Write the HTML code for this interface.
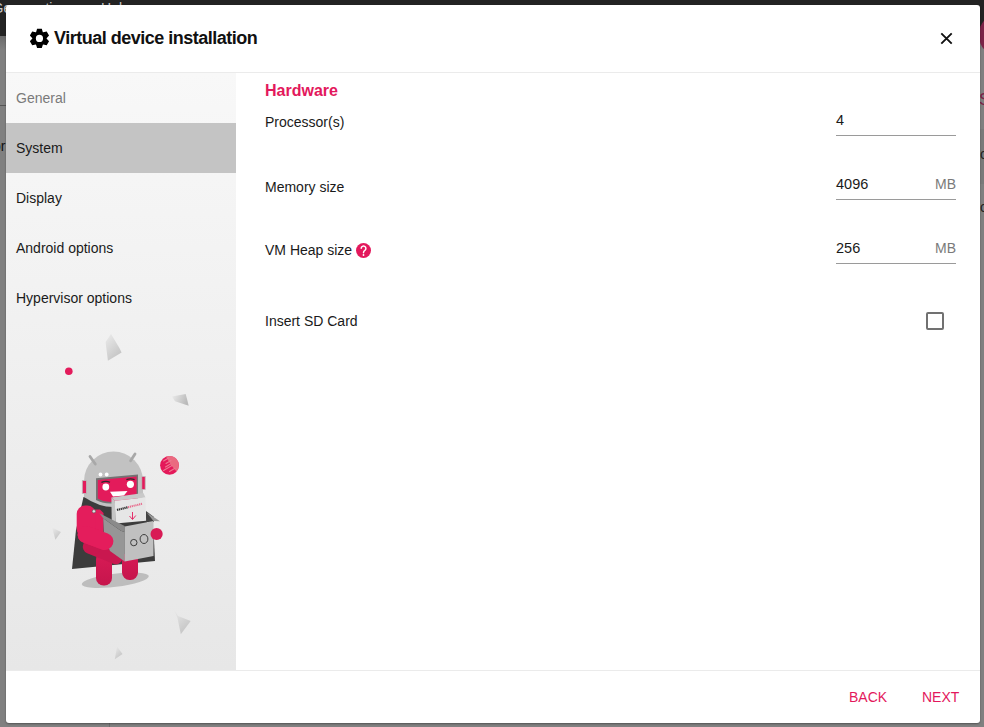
<!DOCTYPE html>
<html><head><meta charset="utf-8">
<style>
*{box-sizing:border-box;margin:0;padding:0}
html,body{width:984px;height:727px;overflow:hidden}
body{position:relative;font-family:"Liberation Sans",sans-serif;background:#808080;color:#1a1a1a}
.topbar{position:absolute;left:0;top:0;width:984px;height:36px;background:#232323;overflow:hidden}
.tshadow{position:absolute;left:0;top:36px;width:984px;height:14px;background:linear-gradient(#6a6a6a,#808080)}
.lline{position:absolute;left:0;top:105px;width:8px;height:1px;background:#555}
.bline{position:absolute;left:109px;top:718px;width:1px;height:10px;background:#6e6e6e}
.rpink{position:absolute;left:979px;top:14px;width:40px;height:42px;border-radius:21px;background:#7b2347}
.dlg{position:absolute;left:6px;top:5px;width:974px;height:718px;background:#fff;border-radius:3px;overflow:hidden;box-shadow:0 1px 2px rgba(0,0,0,.35)}
.hdr{position:absolute;left:0;top:0;width:974px;height:68px;border-bottom:1px solid #ebebeb}
.title{position:absolute;left:48px;top:23px;font-size:18px;font-weight:bold;color:#111;white-space:nowrap;letter-spacing:-0.5px}
.gear{position:absolute;left:23px;top:23px}
.close{position:absolute;left:934px;top:27px}
.side{position:absolute;left:0;top:68px;width:230px;height:597px;background:linear-gradient(#f8f8f8,#e7e7e7)}
.item{position:absolute;left:0;width:230px;height:50px;font-size:14px;line-height:50px;padding-left:10px;color:#1a1a1a}
.item.sel{background:#c4c4c4}
.item.dis{color:#7a7a7a}
.main{position:absolute;left:230px;top:68px;width:744px;height:597px}
.sec{position:absolute;left:29px;top:9px;font-size:16px;font-weight:bold;color:#e3185c}
.lbl{position:absolute;left:29px;font-size:14px;color:#1a1a1a;white-space:nowrap}
.inp{position:absolute;left:600px;width:120px;height:24px;border-bottom:1px solid #9a9a9a;font-size:14px}
.inp .v{position:absolute;left:0;top:-0.5px;font-size:14.5px;color:#1a1a1a}
.inp .u{position:absolute;right:0;top:0px;color:#7a7a7a}
.help{position:absolute}
.chk{position:absolute;left:690px;width:18px;height:18px;border:2px solid #717171;border-radius:2px}
.ftr{position:absolute;left:0;top:665px;width:974px;height:53px;border-top:1px solid #ebebeb}
.btn{position:absolute;top:18px;font-size:14px;color:#e3185c;white-space:nowrap}
.art{position:absolute;left:0;top:0}
</style></head>
<body>
<div class="topbar"><span style="position:absolute;left:-7.5px;top:0px;font-size:14px;color:#c9c9c9">Genymotion</span><span style="position:absolute;left:101px;top:0px;font-size:14px;color:#c9c9c9">Help</span></div>
<div class="tshadow"></div>
<div class="lline"></div>
<div class="bline"></div>
<div style="position:absolute;left:978px;top:129px;width:6px;height:55px;background:#7a7a7a"></div>
<div style="position:absolute;left:-7px;top:138px;font-size:14px;color:#111">or</div>
<div style="position:absolute;left:979px;top:90px;font-size:17px;color:#7b2347">S</div>
<div style="position:absolute;left:980px;top:146px;font-size:14px;color:#222">c</div>
<div style="position:absolute;left:980px;top:199px;font-size:14px;color:#222">c</div>
<div class="rpink"></div>
<div class="dlg">
  <div class="hdr">
    <svg class="gear" width="21" height="21" viewBox="-10.45 -10.4 21 21"><path fill="#000" fill-rule="evenodd" d="M3.40 -6.23 L2.35 -9.72 L-2.35 -9.72 L-3.40 -6.23 L-3.70 -6.06 L-7.24 -6.90 L-9.59 -2.82 L-7.10 -0.17 L-7.10 0.17 L-9.59 2.82 L-7.24 6.90 L-3.70 6.06 L-3.40 6.23 L-2.35 9.72 L2.35 9.72 L3.40 6.23 L3.70 6.06 L7.24 6.90 L9.59 2.82 L7.10 0.17 L7.10 -0.17 L9.59 -2.82 L7.24 -6.90 L3.70 -6.06Z M3.6 0 A3.6 3.6 0 1 0 -3.6 0 A3.6 3.6 0 1 0 3.6 0Z"/></svg>
    <div class="title">Virtual device installation</div>
    <svg class="close" width="13" height="13" viewBox="0 0 13 13"><path d="M1.3 1.3L11.7 11.7M11.7 1.3L1.3 11.7" stroke="#111" stroke-width="1.9"/></svg>
  </div>
  <div class="side">
    <div class="item dis" style="top:0">General</div>
    <div class="item sel" style="top:50px">System</div>
    <div class="item" style="top:100px">Display</div>
    <div class="item" style="top:150px">Android options</div>
    <div class="item" style="top:200px">Hypervisor options</div>
  </div>
  <div class="main">
    <div class="sec">Hardware</div>
    <div class="lbl" style="top:41px">Processor(s)</div>
    <div class="inp" style="top:39px"><span class="v">4</span></div>
    <div class="lbl" style="top:106px">Memory size</div>
    <div class="inp" style="top:103px"><span class="v">4096</span><span class="u">MB</span></div>
    <div class="lbl" style="top:169px">VM Heap size</div>
    <svg class="help" style="left:120px;top:170px" width="15" height="15" viewBox="0 0 15 15"><circle cx="7.5" cy="7.5" r="7.5" fill="#e3185c"/><path d="M5.2 5.3 A2.35 2.35 0 1 1 8.9 7.3 Q7.5 8.1 7.5 9.7" stroke="#fff" stroke-width="1.45" fill="none" stroke-linecap="round"/><circle cx="7.5" cy="12" r="0.9" fill="#fff"/></svg>
    <div class="inp" style="top:167px"><span class="v">256</span><span class="u">MB</span></div>
    <div class="lbl" style="top:240px">Insert SD Card</div>
    <div class="chk" style="top:239px"></div>
  </div>
  <div class="ftr">
    <div class="btn" style="left:843px">BACK</div>
    <div class="btn" style="left:916px">NEXT</div>
  </div>
</div>
<svg class="art" width="240" height="670" viewBox="0 0 240 670">
<defs>
<linearGradient id="sh1" x1="0" y1="0" x2="0.6" y2="1"><stop offset="0" stop-color="#ececec"/><stop offset="1" stop-color="#c4c4c4"/></linearGradient>
<linearGradient id="sh2" x1="0" y1="0" x2="1" y2="0.3"><stop offset="0" stop-color="#ececec"/><stop offset="1" stop-color="#bababa"/></linearGradient>
<linearGradient id="leg" x1="0" y1="0" x2="0" y2="1"><stop offset="0" stop-color="#d81b56"/><stop offset="1" stop-color="#c6154c"/></linearGradient>
</defs>
<!-- shards -->
<polygon points="111,334 105.6,342 107.9,360.8 121.6,352.4 119.4,348" fill="url(#sh1)"/>
<polygon points="172,396.6 185.7,393.9 188.7,405.8 175,401.2" fill="url(#sh2)"/>
<polygon points="52.1,527.6 60.9,532 55.4,539.7" fill="url(#sh1)"/>
<polygon points="173.1,607.9 178,616 190.7,621.1 180.8,634.3 177.5,618" fill="url(#sh1)"/>
<polygon points="117,646.4 122.5,654.1 114.8,659.2" fill="url(#sh1)"/>
<circle cx="68.8" cy="371.2" r="3.8" fill="#e31b5b"/>
<!-- planet -->
<circle cx="169.5" cy="465.3" r="9.4" fill="#e4195a"/>
<path d="M166 456.6 A9.4 9.4 0 0 1 176.5 471.6 Q171 466 166 456.6Z" fill="#ea6a80"/>
<g stroke="#ee7890" stroke-width="1.1" stroke-linecap="round">
<line x1="163.5" y1="461" x2="169" y2="457.8"/><line x1="166" y1="463.5" x2="171" y2="460.5"/><line x1="165.5" y1="467" x2="170.5" y2="464"/><line x1="163.5" y1="470.5" x2="172" y2="465.5"/><line x1="169.5" y1="471.5" x2="175" y2="468.3"/>
</g>
<!-- shadow -->
<ellipse cx="115.3" cy="580.2" rx="33.8" ry="6.6" fill="#bdbdbd" transform="rotate(-7 115.3 580.2)"/>
<!-- cape -->
<polygon points="83.5,497 140,505 154,540 155,561 72,569 76,530" fill="#3c3c3c"/>
<!-- legs -->
<rect x="96" y="552" width="16" height="33.5" rx="7.5" fill="url(#leg)"/>
<rect x="122" y="552" width="16" height="28" rx="7.5" fill="url(#leg)"/>
<!-- torso -->
<rect x="82" y="544" width="42" height="15" rx="7" fill="#c9174f" transform="rotate(22 103 551.5)"/>
<rect x="86" y="540" width="14" height="14" rx="5" fill="#c9174f"/>
<polygon points="89,509.5 100,509.5 103.5,513 103.5,545 89,545" fill="#e41d5c"/>
<!-- upper arm -->
<rect x="76.7" y="505.5" width="19" height="32" rx="8.5" fill="#e41d5c"/>
<!-- forearm -->
<rect x="77" y="529.5" width="37" height="17" rx="8.5" fill="#e41d5c" transform="rotate(20 95.5 538)"/>
<circle cx="93.9" cy="511.3" r="1.7" fill="#e0e0e0" stroke="#555" stroke-width="0.6"/>
<!-- head -->
<path d="M84 497 L84 481 A29.5 29.5 0 0 1 143 481 L143 497 Q113.5 517 84 497Z" fill="#c2c2c2"/>
<g stroke="#a8a8a8" stroke-width="2.8" stroke-linecap="round"><line x1="90" y1="456.5" x2="95.3" y2="464"/><line x1="135" y1="454" x2="130.6" y2="460.8"/></g>
<rect x="82.3" y="480.5" width="4.2" height="13" fill="#e31b5b" stroke="#bdbdbd" stroke-width="0.8"/>
<rect x="141.8" y="476.5" width="3.4" height="13" fill="#e31b5b" stroke="#bdbdbd" stroke-width="0.8"/>
<circle cx="100.5" cy="474.5" r="1.9" fill="#fff"/><circle cx="106.7" cy="474.5" r="1.9" fill="#fff"/>
<path d="M96 478.3 L138 474.5 L138 502.5 L111 503.6 Q101 503 96 500Z" fill="#737373"/>
<path d="M97.8 480 L136.6 476.4 L136.6 501 L111 502 Q102 501.5 97.8 498.5Z" fill="#e31b5b"/>
<circle cx="105.8" cy="487" r="3.4" fill="#fff"/><circle cx="130.4" cy="484.3" r="3.6" fill="#fff"/>
<path d="M101.4 482.4 Q105.8 480.6 110 482.2" stroke="#2a2a2a" stroke-width="1.2" fill="none"/>
<path d="M126.4 479.6 Q130.4 478 134.6 479.6" stroke="#2a2a2a" stroke-width="1.2" fill="none"/>
<polygon points="110,491.8 127.5,491 124,495.6 113,496.6" fill="#fff"/>
<!-- box interior & flaps -->
<polygon points="146,511 154,517 154,522 146,522" fill="#444"/>
<!-- product box -->
<polygon points="111.4,497.4 143.4,492.9 145.4,497.4 114.8,500.8" fill="#c9c9c9"/>
<polygon points="111.4,497.4 114.8,500.8 115.5,523.5 111.7,520.8" fill="#c4c4c4"/>
<polygon points="114.8,500.8 145.4,497.4 146.1,520.8 115.5,523.5" fill="#e6e6e6"/>
<path d="M117 510 L127.5 507.3" stroke="#333" stroke-width="2.2" stroke-dasharray="1.3 0.6"/>
<path d="M128 507.2 L142 503.8" stroke="#e86a8c" stroke-width="2" stroke-dasharray="1.2 0.7"/>
<path d="M132.5 512 L132.5 519 M129.5 516 L132.5 519.5 L135.8 515.5" stroke="#e31b5b" stroke-width="0.9" fill="none"/>
<!-- cardboard box -->
<polygon points="103.2,518.2 120.8,530.8 124.7,532 124.7,561.6 110,551 104,535" fill="#969696"/>
<polygon points="99.4,513.2 124.7,525.9 124.7,532 120.8,530.8 103.2,518.2" fill="#8a8a8a"/>
<polygon points="124.7,526.5 153.5,521 153.5,556 124.7,561.6" fill="#c0c0c0"/>
<polygon points="146.8,512.5 160,521.3 153.5,521" fill="#9a9a9a"/>
<circle cx="133.8" cy="542.6" r="3.2" fill="none" stroke="#2e2e2e" stroke-width="0.9"/>
<ellipse cx="144" cy="539" rx="3.9" ry="4.5" fill="none" stroke="#2e2e2e" stroke-width="0.9"/>
<!-- forearm over box -->
<rect x="77" y="529.5" width="37" height="17" rx="8.5" fill="#e41d5c" transform="rotate(20 95.5 538)"/>
<circle cx="156.6" cy="534" r="6.1" fill="#d81b55"/>
</svg>
</body></html>
